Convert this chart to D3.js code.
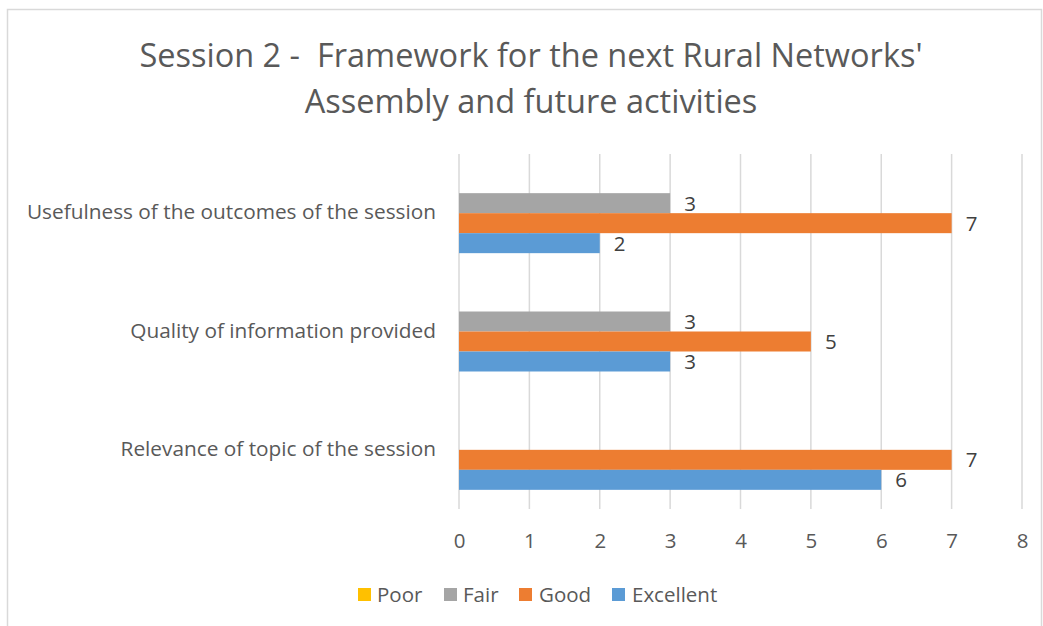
<!DOCTYPE html>
<html>
<head>
<meta charset="utf-8">
<script src="https://cdn.jsdelivr.net/npm/d3@7"></script>
<style>
  html, body { margin: 0; padding: 0; background: #fff; }
  svg { display: block; }
  text { font-family: "Open Sans", sans-serif; }
</style>
</head>
<body>
<svg id="chart" width="1043" height="626"></svg>
<script>
const titleLines = ["Session 2 -  Framework for the next Rural Networks'", "Assembly and future activities"];
const categories = ["Usefulness of the outcomes of the session", "Quality of information provided", "Relevance of topic of the session"];
const seriesNames = ["Poor", "Fair", "Good", "Excellent"];
const poorValues = [null, null, null];
const fairValues = [3, 3, null];
const goodValues = [7, 5, 7];
const excellentValues = [2, 3, 6];
const xTicks = [0, 1, 2, 3, 4, 5, 6, 7, 8];
const seriesColors = ["#FFC000", "#A5A5A5", "#ED7D31", "#5B9BD5"];

const seriesValues = [poorValues, fairValues, goodValues, excellentValues];

const svg = d3.select("#chart");

// chart border
svg.append("rect")
  .attr("x", 7.5).attr("y", 9.5)
  .attr("width", 1034).attr("height", 640)
  .attr("fill", "#fff").attr("stroke", "#D9D9D9").attr("stroke-width", 1.5);

// title
const title = svg.append("text")
  .attr("text-anchor", "middle")
  .attr("fill", "#595959")
  .style("white-space", "pre")
  .attr("xml:space", "preserve")
  .style("font-size", "32.5px");
titleLines.forEach((t, i) => {
  title.append("tspan").attr("x", 531).attr("y", 67 + i * 46).text(t);
});

const x = d3.scaleLinear().domain([0, 8]).range([459, 1022]);
const y0 = d3.scaleBand().domain(categories).range([154, 509]).paddingInner(0.324).paddingOuter(0.162);
const y1 = d3.scaleBand().domain(seriesNames).range([0, y0.bandwidth()]);
const color = d3.scaleOrdinal().domain(seriesNames).range(seriesColors);

// gridlines
svg.append("g").selectAll("line").data(xTicks).join("line")
  .attr("x1", d => x(d)).attr("x2", d => x(d))
  .attr("y1", 154).attr("y2", 509)
  .attr("stroke", "#D9D9D9").attr("stroke-width", 1.5);

// x axis labels
const xAxis = svg.append("g").attr("transform", "translate(0,509)")
  .call(d3.axisBottom(x).tickValues(xTicks).tickSize(0).tickPadding(0).tickFormat(d3.format("d")));
xAxis.select(".domain").remove();
xAxis.selectAll("text")
  .attr("y", 39).attr("dy", 0)
  .attr("fill", "#595959")
  .style("font-size", "20.5px");

// y axis labels
const yAxis = svg.append("g").attr("transform", "translate(459,0)")
  .call(d3.axisLeft(y0).tickSize(0).tickPadding(23));
yAxis.select(".domain").remove();
yAxis.selectAll("text")
  .attr("fill", "#595959")
  .attr("dy", "0.3em")
  .style("font-size", "20.8px");

// bars
const flat = [];
seriesNames.forEach((s, si) => {
  categories.forEach((c, ci) => {
    flat.push({ series: s, category: c, value: seriesValues[si][ci] });
  });
});

svg.append("g").selectAll("rect").data(flat.filter(d => d.value != null)).join("rect")
  .attr("x", x(0))
  .attr("y", d => y0(d.category) + y1(d.series))
  .attr("width", d => x(d.value) - x(0))
  .attr("height", y1.bandwidth())
  .attr("fill", d => color(d.series));

// data labels
svg.append("g").selectAll("text").data(flat.filter(d => d.value != null)).join("text")
  .attr("x", d => x(d.value) + 14)
  .attr("y", d => y0(d.category) + y1(d.series) + y1.bandwidth() / 2)
  .attr("dy", "0.36em")
  .attr("fill", "#404040")
  .style("font-size", "20.5px")
  .text(d => d.value);

// legend
const legendItems = [
  { name: "Poor", sx: 358, tx: 377 },
  { name: "Fair", sx: 444, tx: 463 },
  { name: "Good", sx: 519, tx: 539 },
  { name: "Excellent", sx: 612, tx: 632 }
];
const legend = svg.append("g");
legendItems.forEach(item => {
  legend.append("rect")
    .attr("x", item.sx).attr("y", 588)
    .attr("width", 13).attr("height", 13)
    .attr("fill", color(item.name));
  legend.append("text")
    .attr("x", item.tx).attr("y", 594.5)
    .attr("dy", "0.36em")
    .attr("fill", "#595959")
    .style("font-size", "20.5px")
    .text(item.name);
});
</script>
</body>
</html>
